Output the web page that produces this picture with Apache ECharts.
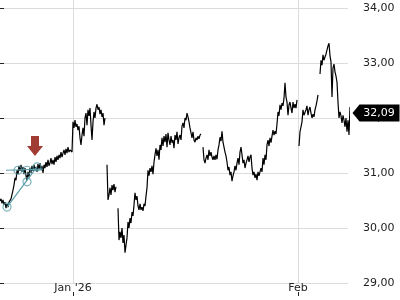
<!DOCTYPE html>
<html>
<head>
<meta charset="utf-8">
<script src="https://cdn.jsdelivr.net/npm/echarts@6/dist/echarts.min.js"></script>
<style>html,body{margin:0;padding:0;background:#fff}#c{width:400px;height:300px}</style>
</head>
<body>
<div id="c"></div>
<script>
// Price samples (one per time step), null = trading break
const prices = [
30.49,30.53,30.45,30.51,30.42,30.47,30.36,30.44,30.38,30.47,30.44,30.53,30.51,30.69,30.78,30.91,30.87,31.05,30.98,31.13,
31.04,31.15,31.02,31.11,30.98,31.09,30.95,30.87,31.02,30.93,31.09,31.00,31.13,31.04,31.15,31.05,31.11,31.02,31.16,31.07,
31.18,31.05,31.13,31.00,31.15,31.09,31.20,31.11,31.24,31.13,31.18,31.27,31.16,31.24,31.15,31.29,31.20,31.31,31.24,31.33,
31.27,31.38,31.29,31.36,31.42,31.33,31.44,31.36,31.47,31.38,31.42,31.45,31.38,31.93,31.82,31.96,31.84,31.89,31.78,31.85,
31.64,31.51,31.69,31.82,31.67,32.00,32.09,31.87,32.15,32.04,32.18,31.87,31.60,31.93,32.11,32.00,32.18,32.25,32.15,32.20,
32.07,32.15,32.02,32.09,31.87,32.00,null,31.15,30.51,30.60,30.73,30.60,30.78,30.69,30.80,30.65,30.75,null,30.36,29.78,
29.93,29.82,30.00,29.73,29.87,29.55,29.69,29.82,30.11,30.00,30.18,30.09,30.29,30.22,30.42,30.64,30.51,30.58,30.40,30.33,
30.44,30.33,30.38,30.31,30.44,30.40,30.58,30.73,31.05,30.95,31.09,31.02,31.13,30.98,31.20,31.33,31.45,31.31,31.42,31.24,
31.51,31.42,31.64,31.49,31.67,31.56,31.71,31.47,31.73,31.60,31.51,31.67,31.55,31.60,31.45,31.69,31.60,31.75,31.53,31.64,
31.69,31.60,31.85,31.91,31.82,32.00,31.96,32.09,32.02,31.93,31.82,31.73,31.64,31.75,31.60,31.56,31.64,31.60,31.67,31.62,
31.69,31.71,null,31.47,31.24,31.18,31.27,31.33,31.24,31.42,31.31,31.38,31.29,31.24,31.31,31.24,31.33,31.25,31.42,31.51,
31.65,31.58,31.76,31.56,31.47,31.38,31.31,31.20,31.05,31.11,30.96,31.02,30.85,30.95,31.02,31.13,31.05,31.18,31.27,31.15,
31.38,31.47,31.33,31.18,31.24,31.09,31.18,31.24,31.31,31.20,31.29,31.33,31.09,30.96,31.02,30.91,30.98,30.87,31.02,30.95,
31.02,31.09,31.02,31.27,31.15,31.33,31.24,31.51,31.60,31.49,31.64,31.55,31.67,31.78,31.69,31.76,31.71,31.89,32.11,32.04,
32.24,32.15,32.27,32.22,32.36,32.64,32.38,32.29,32.05,32.24,32.29,32.18,32.09,32.29,32.18,32.25,32.18,32.33,null,31.49,
31.75,31.84,31.93,32.15,32.05,32.02,32.15,32.22,32.05,32.15,32.20,32.09,32.00,32.07,32.02,32.15,32.22,32.31,32.42,null,
32.80,33.05,32.96,33.15,33.05,33.11,33.16,33.24,33.31,33.36,33.13,33.02,32.38,32.91,32.98,32.84,32.76,32.65,32.29,32.00,
32.11,32.04,31.91,32.05,31.96,31.84,32.00,31.75,31.96,31.69,32.20,32.05,32.09
];
const monthTickIdx = [73, 298];
const monthTickText = ["Jan '26", "Feb"];
const xViewMax = 348;          // sample index at the right edge of the grid
const yMin = 29, yMax = 34, yStep = 1;
const yTickVals = [29, 30, 31, 32, 33, 34];
const lastPrice = 32.09;
const arrowIdx = [35], arrowPrice = [31.49];
const patternHIdx = [6, 43], patternHPrice = [31.05, 31.07];
const patternDIdx = [7, 37], patternDPrice = [30.38, 31.11];
const circleIdx = [7, 18, 27, 27, 37];
const circlePrice = [30.38, 31.05, 31.05, 30.84, 31.11];

const lineData = prices.map((p, i) => [i, p]);
const teal = '#5a9fab';
const gridColor = '#dcdcdc';
const font = 'DejaVu Sans';
const fmtPrice = v => v.toFixed(2).replace('.', ',');

const chart = echarts.init(document.getElementById('c'), null, {renderer: 'canvas'});
chart.setOption({
  animation: false,
  grid: [
    {left: 0, right: 52, top: 8, bottom: 17, containLabel: false},
    {left: 0, right: 52, top: 0, bottom: 17, containLabel: false}
  ],
  xAxis: [{
    gridIndex: 0, type: 'value', min: 0, max: xViewMax,
    axisLine: {show: true, lineStyle: {color: gridColor, width: 1}},
    axisTick: {show: false},
    axisLabel: {
      customValues: monthTickIdx, margin: 0, color: '#222', fontSize: 11, fontFamily: font,
      formatter: v => monthTickText[monthTickIdx.indexOf(v)] || ''
    },
    splitLine: {show: false}
  }, {
    gridIndex: 0, type: 'value', min: 0, max: xViewMax, position: 'bottom', offset: 9,
    axisLine: {show: false},
    axisTick: {show: true, customValues: monthTickIdx, length: 4, lineStyle: {color: '#222'}},
    axisLabel: {show: false},
    splitLine: {show: false}
  }, {
    gridIndex: 1, type: 'value', min: 0, max: xViewMax,
    axisLine: {show: false},
    axisTick: {show: false, customValues: monthTickIdx},
    axisLabel: {show: false},
    splitLine: {show: true, lineStyle: {color: gridColor, width: 1}}
  }],
  yAxis: [{
    gridIndex: 0, type: 'value', position: 'right', min: yMin, max: yMax, interval: yStep, offset: 4,
    axisLine: {show: false},
    axisTick: {show: true, inside: false, length: 4, customValues: yTickVals, lineStyle: {color: '#222', width: 1}},
    axisLabel: {color: '#222', fontSize: 11, fontFamily: font, margin: 11, formatter: fmtPrice},
    splitLine: {show: true, lineStyle: {color: gridColor, width: 1}}
  }, {
    gridIndex: 1, type: 'value', min: yMin, max: yMax, show: false,
    splitLine: {show: false}
  }],
  series: [{
    type: 'line', data: lineData, showSymbol: false, connectNulls: false, z: 2, clip: false,
    lineStyle: {color: '#000', width: 1.2}, itemStyle: {color: '#000'},
    markPoint: {
      silent: true,
      data: [{
        coord: [xViewMax, lastPrice],
        symbol: 'path://M0,8.5 L7,0 L47,0 L47,17 L7,17 Z',
        symbolSize: [47, 17], symbolKeepAspect: false, symbolOffset: [28, 0],
        itemStyle: {color: '#000'},
        label: {show: true, position: 'inside', offset: [3, 0], color: '#fff', fontSize: 11, fontFamily: font,
          formatter: () => fmtPrice(lastPrice)}
      }, {
        coord: [arrowIdx[0], arrowPrice[0]],
        symbol: 'path://M4,0 L12,0 L12,10 L16,10 L8,20 L0,10 L4,10 Z',
        symbolSize: [16, 20], symbolKeepAspect: false,
        itemStyle: {color: '#a03c33'},
        label: {show: false}
      }]
    }
  }, {
    type: 'line', data: patternHIdx.map((x, i) => [x, patternHPrice[i]]), showSymbol: false, z: 3,
    lineStyle: {color: teal, width: 1.2}
  }, {
    type: 'line', data: patternDIdx.map((x, i) => [x, patternDPrice[i]]), showSymbol: false, z: 3,
    lineStyle: {color: teal, width: 1.2}
  }, {
    type: 'scatter', data: circleIdx.map((x, i) => [x, circlePrice[i]]), symbol: 'circle', symbolSize: 8, z: 4,
    itemStyle: {color: 'rgba(255,255,255,0)', borderColor: teal, borderWidth: 1.2}
  }]
});
</script>
</body>
</html>
